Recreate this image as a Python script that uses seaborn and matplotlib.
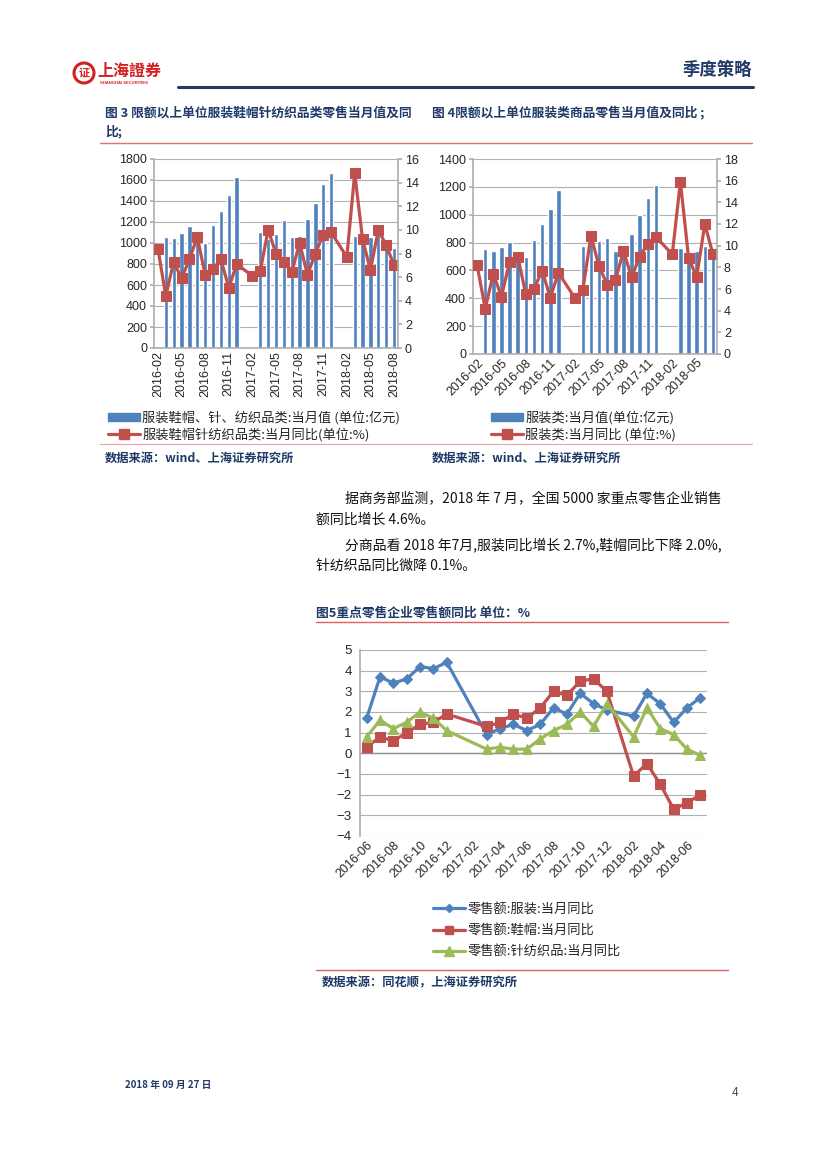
import numpy as np
import pandas as pd
import matplotlib
matplotlib.use("Agg")
import matplotlib.pyplot as plt
from matplotlib.patches import Patch, Ellipse
from matplotlib.lines import Line2D
import seaborn as sns

sns.set_theme(style="white")
plt.rcParams['font.family'] = ['Liberation Sans', 'Noto Sans CJK SC', 'DejaVu Sans']
plt.rcParams['axes.unicode_minus'] = False

W, H = 827, 1169
BLUE = "#4F81BD"
RED = "#C0504D"
GREEN = "#9BBB59"
NAVY = "#1F3A68"
GRID = "#B0B0B0"
CJK = ['Noto Sans CJK SC', 'DejaVu Sans']

# ---------------- data: figure 3 ----------------
months1 = [f"{y}-{m:02d}" for y in (2016, 2017, 2018) for m in range(1, 13)]
months1 = months1[months1.index("2016-02"):months1.index("2018-08") + 1]
value1 = [np.nan, 1055, 1045, 1092, 1162, 1050, 1003, 1172, 1302, 1459, 1631,
          np.nan, np.nan, 1102, 1040, 1090, 1220, 1057, 1070, 1229, 1382, 1560, 1662,
          np.nan, np.nan, 1064, 1030, 1054, 1100, 1000, 949]
yoy1 = [8.4, 4.4, 7.3, 5.9, 7.5, 9.4, 6.2, 6.7, 7.5, 5.1, 7.1,
        np.nan, 6.1, 6.5, 10.0, 8.0, 7.3, 6.4, 8.9, 6.2, 8.0, 9.6, 9.8,
        np.nan, 7.7, 14.8, 9.2, 6.6, 10.0, 8.7, 7.0]

# ---------------- data: figure 4 ----------------
months2 = months1[:months1.index("2018-07") + 1]
value2 = [np.nan, 753, 736, 767, 803, 740, 695, 817, 933, 1041, 1180,
          np.nan, np.nan, 772, 800, 810, 834, 736, 740, 861, 1000, 1120, 1213,
          np.nan, np.nan, 758, 700, 743, 772, 720]
yoy2 = [8.2, 4.2, 7.4, 5.3, 8.5, 9.0, 5.5, 6.0, 7.7, 5.2, 7.5,
        np.nan, 5.2, 5.9, 10.9, 8.1, 6.4, 6.8, 9.5, 7.1, 9.0, 10.2, 10.8,
        np.nan, 9.2, 15.9, 8.9, 7.1, 12.0, 9.2]

# ---------------- data: figure 5 ----------------
months3 = months1[months1.index("2016-06"):months1.index("2018-07") + 1]
apparel = [1.7, 3.7, 3.4, 3.6, 4.2, 4.1, 4.4, np.nan, np.nan,
           0.9, 1.2, 1.4, 1.1, 1.4, 2.2, 1.9, 2.9, 2.4, 2.1, np.nan,
           1.8, 2.9, 2.4, 1.5, 2.2, 2.7]
shoes = [0.3, 0.8, 0.6, 1.0, 1.4, 1.5, 1.9, np.nan, np.nan,
         1.3, 1.5, 1.9, 1.7, 2.2, 3.0, 2.8, 3.5, 3.6, 3.0, np.nan,
         -1.1, -0.5, -1.5, -2.7, -2.4, -2.0]
knit = [0.8, 1.6, 1.2, 1.5, 2.0, 1.7, 1.1, np.nan, np.nan,
        0.2, 0.3, 0.2, 0.2, 0.7, 1.1, 1.4, 2.0, 1.3, 2.4, np.nan,
        0.8, 2.2, 1.2, 0.9, 0.2, -0.1]

legend1 = ["服装鞋帽、针、纺织品类:当月值 (单位:亿元)", "服装鞋帽针纺织品类:当月同比(单位:%)"]
legend2 = ["服装类:当月值(单位:亿元)", "服装类:当月同比 (单位:%)"]
legend3 = ["零售额:服装:当月同比", "零售额:鞋帽:当月同比", "零售额:针纺织品:当月同比"]


def fx(x):
    return x / W


def fy(y):
    return 1 - y / H


def rect(l, t, r, b):
    return [fx(l), fy(b), fx(r) - fx(l), (b - t) / H]


fig = plt.figure(figsize=(W / 100, H / 100), dpi=100)
fig.patch.set_facecolor("white")


def hline(x0, x1, y, color, lw):
    fig.add_artist(Line2D([fx(x0), fx(x1)], [fy(y), fy(y)], color=color, lw=lw,
                          transform=fig.transFigure))


# ---------------- header ----------------
fig.add_artist(Ellipse((fx(84), fy(73)), 20 / W, 20 / H, transform=fig.transFigure,
                       facecolor="white", edgecolor="#D42020", lw=2.2))
fig.text(fx(84), fy(73), "证", family=CJK, fontsize=8, color="#D42020",
         ha="center", va="center", fontweight="bold")
fig.text(fx(97), fy(71), "上海證券", family=CJK, fontsize=11.5, color="#D42020",
         ha="left", va="center", fontweight="bold")
fig.text(fx(100), fy(83), "SHANGHAI SECURITIES", fontsize=3, color="#D42020",
         ha="left", va="center", fontweight="bold")
fig.text(fx(752), fy(70), "季度策略", family=CJK, fontsize=12.5, color=NAVY,
         ha="right", va="center", fontweight="bold")
hline(178, 753, 87, NAVY, 2.2)

fig.text(fx(105), fy(113), "图 3 限额以上单位服装鞋帽针纺织品类零售当月值及同", family=CJK,
         fontsize=9.2, color=NAVY, fontweight="bold", va="center")
fig.text(fx(105), fy(131), "比;", family=CJK, fontsize=9.2, color=NAVY, fontweight="bold", va="center")
fig.text(fx(432), fy(113), "图 4限额以上单位服装类商品零售当月值及同比 ;", family=CJK,
         fontsize=9.2, color=NAVY, fontweight="bold", va="center")
hline(100, 752, 143, "#E07070", 1.0)


def style_axis(ax, ax2):
    for a in (ax, ax2):
        for s in a.spines.values():
            s.set_visible(False)
    ax.spines["left"].set_visible(True)
    ax.spines["left"].set_color(GRID)
    ax.spines["bottom"].set_visible(True)
    ax.spines["bottom"].set_color(GRID)
    ax2.spines["right"].set_visible(True)
    ax2.spines["right"].set_color(GRID)
    ax.yaxis.grid(True, color=GRID, lw=0.8)
    ax.set_axisbelow(True)
    ax.tick_params(axis="both", labelsize=9, length=3, color=GRID, pad=2, direction="out")
    ax.tick_params(axis="x", length=0)
    ax2.tick_params(axis="y", labelsize=9, length=3, color=GRID, pad=2, direction="out")
    ax.set_xlabel("")
    ax.set_ylabel("")
    ax2.set_xlabel("")
    ax2.set_ylabel("")


def bar_line_chart(r, months, values, yoy, ylim, yt, ylim2, yt2, rot):
    ax = fig.add_axes(r)
    df = pd.DataFrame({"month": months, "value": values, "yoy": yoy})
    df["pos"] = np.arange(len(df))
    sns.barplot(data=df.dropna(subset=["value"]), x="month", y="value", order=months,
                color=BLUE, saturation=1, width=0.55, ax=ax)
    ax2 = ax.twinx()
    dl = df.dropna(subset=["yoy"])
    sns.lineplot(data=dl, x="pos", y="yoy", ax=ax2, color=RED, lw=2.3, marker="s",
                 markersize=6.5, markeredgecolor=RED, sort=False)
    ax.set_ylim(*ylim)
    ax.set_yticks(yt)
    ax2.set_ylim(*ylim2)
    ax2.set_yticks(yt2)
    ax.set_xlim(-0.5, len(months) - 0.5)
    ticks = list(range(0, len(months), 3))
    ax.set_xticks(ticks)
    if rot == 90:
        ax.set_xticklabels([months[i] for i in ticks], rotation=90, ha="center")
    else:
        ax.set_xticklabels([months[i] for i in ticks], rotation=45, ha="right",
                           rotation_mode="anchor")
    style_axis(ax, ax2)
    return ax, ax2


bar_line_chart(rect(154, 159, 398, 348), months1, value1, yoy1,
               (0, 1800), range(0, 1801, 200), (0, 16), range(0, 17, 2), 90)
bar_line_chart(rect(473, 159, 717, 354), months2, value2, yoy2,
               (0, 1400), range(0, 1401, 200), (0, 18), range(0, 19, 2), 45)

bar_h = Patch(facecolor=BLUE, edgecolor=BLUE)
line_h = Line2D([], [], color=RED, lw=2.3, marker="s", markersize=7)
leg_kw = dict(frameon=False, prop={"family": CJK, "size": 9.5}, handlelength=2.4,
              handleheight=0.55, handletextpad=0.2, labelspacing=0.22, borderaxespad=0,
              borderpad=0)
fig.legend([bar_h, line_h], legend1, loc="upper left",
           bbox_to_anchor=(fx(108), fy(411)), **leg_kw)
fig.legend([bar_h, line_h], legend2, loc="upper left",
           bbox_to_anchor=(fx(491), fy(411)), **leg_kw)

hline(100, 752, 444, "#F0A0A0", 0.8)
fig.text(fx(105), fy(458), "数据来源：wind、上海证券研究所", family=CJK, fontsize=8.8,
         color=NAVY, fontweight="bold", style="italic", va="center")
fig.text(fx(432), fy(458), "数据来源：wind、上海证券研究所", family=CJK, fontsize=8.8,
         color=NAVY, fontweight="bold", style="italic", va="center")

# ---------------- paragraph ----------------
para = [(345, 498, "据商务部监测，2018 年 7 月，全国 5000 家重点零售企业销售"),
        (316, 520, "额同比增长 4.6%。"),
        (345, 545, "分商品看 2018 年7月,服装同比增长 2.7%,鞋帽同比下降 2.0%,"),
        (316, 566, "针纺织品同比微降 0.1%。")]
for x, y, t in para:
    fig.text(fx(x), fy(y), t, family=CJK, fontsize=10, color="#111111", va="center")

fig.text(fx(316), fy(613), "图5重点零售企业零售额同比 单位：%", family=CJK, fontsize=9.2,
         color=NAVY, fontweight="bold", va="center")
hline(316, 728, 622, "#E06060", 1.0)

# ---------------- figure 5 ----------------
ax3 = fig.add_axes(rect(360, 650, 707, 836))
df3 = pd.DataFrame({"month": months3, "pos": np.arange(len(months3)),
                    "a": apparel, "s": shoes, "k": knit})
styles = [("a", BLUE, "D", 5.5), ("s", RED, "s", 7), ("k", GREEN, "^", 7.5)]
handles3 = []
for col, c, m, ms in styles:
    d = df3.dropna(subset=[col])
    sns.lineplot(data=d, x="pos", y=col, ax=ax3, color=c, lw=2.3, marker=m,
                 markersize=ms, markeredgecolor=c, sort=False)
    handles3.append(Line2D([], [], color=c, lw=2.3, marker=m, markersize=ms - 1,
                           markeredgecolor=c))
ax3.set_ylim(-4, 5)
ax3.set_yticks(range(-4, 6))
ax3.set_yticklabels([f"{v}" if v >= 0 else f"\u2212{abs(v)}" for v in range(-4, 6)])
ax3.set_xlim(-0.5, len(months3) - 0.5)
t3 = list(range(0, len(months3), 2))
ax3.set_xticks(t3)
ax3.set_xticklabels([months3[i] for i in t3], rotation=45, ha="right", rotation_mode="anchor")
for s in ax3.spines.values():
    s.set_visible(False)
ax3.spines["left"].set_visible(True)
ax3.spines["left"].set_color(GRID)
ax3.yaxis.grid(True, color=GRID, lw=0.8)
ax3.axhline(0, color="#909090", lw=1.0, zorder=1)
ax3.set_axisbelow(True)
ax3.tick_params(axis="y", labelsize=9.5, length=3, color=GRID, pad=3)
ax3.tick_params(axis="x", labelsize=9, length=0, pad=2)
ax3.set_xlabel("")
ax3.set_ylabel("")

fig.legend(handles3, legend3, loc="upper left", bbox_to_anchor=(fx(433), fy(903)),
           frameon=False, prop={"family": CJK, "size": 9.5}, handlelength=2.4,
           handletextpad=0.2, labelspacing=0.62, borderaxespad=0, borderpad=0)

hline(316, 728, 970, "#E06060", 1.0)
fig.text(fx(322), fy(983), "数据来源：同花顺，上海证券研究所", family=CJK, fontsize=8.8,
         color=NAVY, fontweight="bold", style="italic", va="center")

# ---------------- footer ----------------
fig.text(fx(125), fy(1085), "2018 年 09 月 27 日", family=CJK, fontsize=7,
         color=NAVY, fontweight="bold", va="center")
fig.text(fx(738), fy(1093), "4", fontsize=8.5, color="#404060", va="center", ha="right")

fig.savefig("out.png", dpi=100, facecolor="white")
